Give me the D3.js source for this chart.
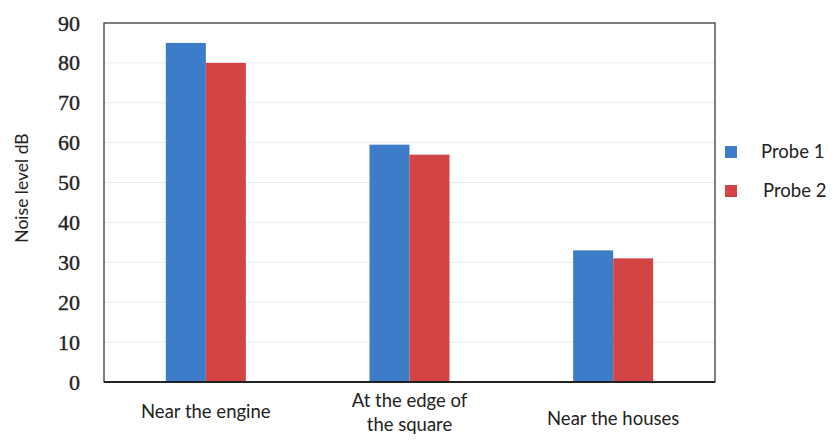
<!DOCTYPE html>
<html>
<head>
<meta charset="utf-8">
<script src="https://cdn.jsdelivr.net/npm/d3@7"></script>
<style>
  html, body { margin: 0; padding: 0; background: #fff; }
  svg { display: block; }
</style>
</head>
<body>
<svg id="chart" width="835" height="441"></svg>
<script>
// Noise measurements at three locations, two probes each
const categories = [["Near the engine"], ["At the edge of", "the square"], ["Near the houses"]];
const seriesNames = ["Probe 1", "Probe 2"];
const probe1 = [85, 59.5, 33];
const probe2 = [80, 57, 31];
const yTicks = [0, 10, 20, 30, 40, 50, 60, 70, 80, 90];
const colors = ["#3d7cc8", "#d34444"];

const svg = d3.select("#chart");
const plot = { left: 104, right: 715, top: 23, bottom: 382 };
const sans = "Lato, 'Open Sans', 'Liberation Sans', sans-serif";

const x = d3.scaleBand()
  .domain(d3.range(categories.length))
  .range([plot.left, plot.right])
  .padding(0);

const y = d3.scaleLinear().domain([0, 90]).range([plot.bottom, plot.top]);

// faint horizontal gridlines
svg.append("g")
  .selectAll("line")
  .data(yTicks.filter(t => t > 0 && t < 90))
  .join("line")
  .attr("x1", plot.left).attr("x2", plot.right)
  .attr("y1", d => y(d)).attr("y2", d => y(d))
  .attr("stroke", "#e4ecf6").attr("stroke-width", 1);

// grouped bars
const barW = 40;
const series = [probe1, probe2];
series.forEach((vals, si) => {
  svg.append("g")
    .selectAll("rect")
    .data(vals)
    .join("rect")
    .attr("x", (d, i) => x(i) + x.bandwidth() / 2 - barW + si * barW)
    .attr("y", d => y(d))
    .attr("width", barW)
    .attr("height", d => y(0) - y(d))
    .attr("fill", colors[si]);
});

// plot frame
svg.append("rect")
  .attr("x", plot.left).attr("y", plot.top)
  .attr("width", plot.right - plot.left)
  .attr("height", plot.bottom - plot.top)
  .attr("fill", "none").attr("stroke", "#3a3a3a").attr("stroke-width", 1.3);
svg.append("line")
  .attr("x1", plot.left).attr("x2", plot.right)
  .attr("y1", plot.bottom).attr("y2", plot.bottom)
  .attr("stroke", "#222").attr("stroke-width", 2);

// y axis tick labels
const yAxis = d3.axisLeft(y).tickValues(yTicks).tickSize(0).tickPadding(24);
const yg = svg.append("g").attr("transform", `translate(${plot.left},0)`).call(yAxis);
yg.select(".domain").remove();
yg.selectAll("text")
  .attr("font-family", "'Liberation Serif', 'DejaVu Serif', serif")
  .attr("font-size", 22)
  .attr("fill", "#222")
  .attr("stroke", "#222")
  .attr("stroke-width", 0.35);

// y axis title
svg.append("text")
  .attr("transform", "translate(28,188) rotate(-90)")
  .attr("text-anchor", "middle")
  .attr("font-family", sans)
  .attr("font-size", 17.5)
  .attr("fill", "#222")
  .text("Noise level dB");

// category labels
const labelBaselines = [418, 407, 425];
const cat = svg.append("g")
  .selectAll("text")
  .data(categories)
  .join("text")
  .attr("text-anchor", "middle")
  .attr("font-family", sans)
  .attr("font-size", 18.5)
  .attr("fill", "#222")
  .attr("y", (d, i) => labelBaselines[i]);
cat.each(function (lines, i) {
  d3.select(this).selectAll("tspan")
    .data(lines)
    .join("tspan")
    .attr("x", x(i) + x.bandwidth() / 2)
    .attr("dy", (d, k) => k === 0 ? 0 : 24)
    .text(d => d);
});

// legend
const legend = svg.append("g");
const legendY = [152, 191];
const legendX = [761, 763];
seriesNames.forEach((name, i) => {
  legend.append("rect")
    .attr("x", 725).attr("y", legendY[i] - 6)
    .attr("width", 12).attr("height", 12)
    .attr("fill", colors[i]);
  legend.append("text")
    .attr("x", legendX[i]).attr("y", legendY[i] + 6)
    .attr("font-family", sans)
    .attr("font-size", 18.5)
    .attr("fill", "#222")
    .text(name);
});
</script>
</body>
</html>
